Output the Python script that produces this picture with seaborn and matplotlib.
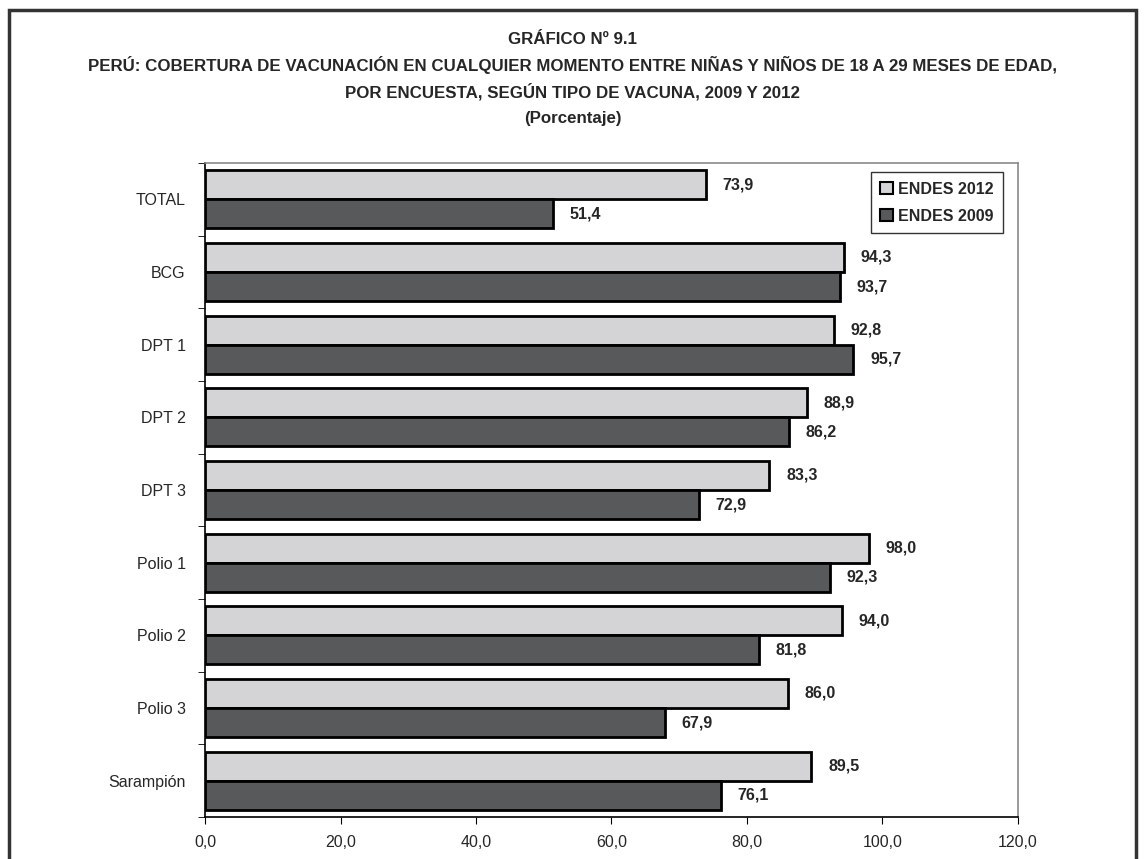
import numpy as np
import matplotlib
matplotlib.use('Agg')
import matplotlib.pyplot as plt
import pandas as pd
import seaborn as sns
from matplotlib.ticker import FixedLocator

# data
vacunas = ['TOTAL', 'BCG', 'DPT 1', 'DPT 2', 'DPT 3', 'Polio 1', 'Polio 2', 'Polio 3', 'Sarampión']
endes_2012 = [73.9, 94.3, 92.8, 88.9, 83.3, 98.0, 94.0, 86.0, 89.5]
endes_2009 = [51.4, 93.7, 95.7, 86.2, 72.9, 92.3, 81.8, 67.9, 76.1]
series = ['ENDES 2012', 'ENDES 2009']
colors = ['#d4d4d6', '#58595b']

df = pd.DataFrame({
    'Vacuna': vacunas * 2,
    'Encuesta': [series[0]] * len(vacunas) + [series[1]] * len(vacunas),
    'Valor': endes_2012 + endes_2009,
})

sns.set_style('white')
plt.rcParams['font.family'] = ['Liberation Sans Narrow', 'Liberation Sans', 'DejaVu Sans']

fig = plt.figure(figsize=(11.45, 8.59), dpi=100)
ax = fig.add_axes([205 / 1145, 1 - 817 / 859, (1018 - 205) / 1145, (817 - 163) / 859])

sns.barplot(data=df, y='Vacuna', x='Valor', hue='Encuesta', order=vacunas,
            hue_order=series, palette=colors, orient='h', width=0.8,
            edgecolor='black', linewidth=2, ax=ax)

# value labels
for cont in ax.containers:
    labels = [f'{v:.1f}'.replace('.', ',') for v in cont.datavalues]
    ax.bar_label(cont, labels=labels, padding=12, fontsize=11.5, fontweight='bold')

ax.set_xlim(0, 120)
ax.set_ylim(len(vacunas) - 0.5, -0.5)
ax.set_xticks(np.arange(0, 121, 20))
ax.set_xticklabels([f'{t:.1f}'.replace('.', ',') for t in np.arange(0, 121, 20)], fontsize=11.5)
ax.set_yticklabels(vacunas, fontsize=11.5)
ax.tick_params(axis='y', which='major', length=0, pad=14)
ax.yaxis.set_minor_locator(FixedLocator(np.arange(-0.5, len(vacunas), 1)))
ax.tick_params(axis='y', which='minor', length=5, direction='out', left=True, color='black')
ax.tick_params(axis='x', length=5, direction='out', bottom=True, color='black', pad=8)
ax.set_xlabel('')
ax.set_ylabel('')

for side in ['top', 'right']:
    ax.spines[side].set_color('#8a8a8a')
    ax.spines[side].set_linewidth(1.2)
for side in ['left', 'bottom']:
    ax.spines[side].set_color('black')
    ax.spines[side].set_linewidth(1.2)

leg = ax.legend(loc='upper right', bbox_to_anchor=(1003 / 1145, 1 - 172 / 859),
                bbox_transform=fig.transFigure, frameon=True, fancybox=False,
                borderaxespad=0, handlelength=0.8, handleheight=0.8, handletextpad=0.3,
                borderpad=0.6, labelspacing=0.75,
                prop={'size': 11.5, 'weight': 'bold'})
leg.get_frame().set_edgecolor('black')
leg.get_frame().set_linewidth(1)
for h in leg.legend_handles:
    h.set_linewidth(1.5)

titles = ['GRÁFICO Nº 9.1',
          'PERÚ: COBERTURA DE VACUNACIÓN EN CUALQUIER MOMENTO ENTRE NIÑAS Y NIÑOS DE 18 A 29 MESES DE EDAD,',
          'POR ENCUESTA, SEGÚN TIPO DE VACUNA, 2009 Y 2012',
          '(Porcentaje)']
for i, t in enumerate(titles):
    fig.text(0.5, 1 - (39 + i * 26.5) / 859, t, ha='center', va='center',
             fontsize=12.2, fontweight='bold')

# outer frame
fig.patches.append(plt.Rectangle((9 / 1145, -0.01), (1136 - 9) / 1145, 1 - 10 / 859 + 0.01,
                                 transform=fig.transFigure, fill=False,
                                 edgecolor='#333333', linewidth=2.5))

fig.savefig('out.png', dpi=100)
